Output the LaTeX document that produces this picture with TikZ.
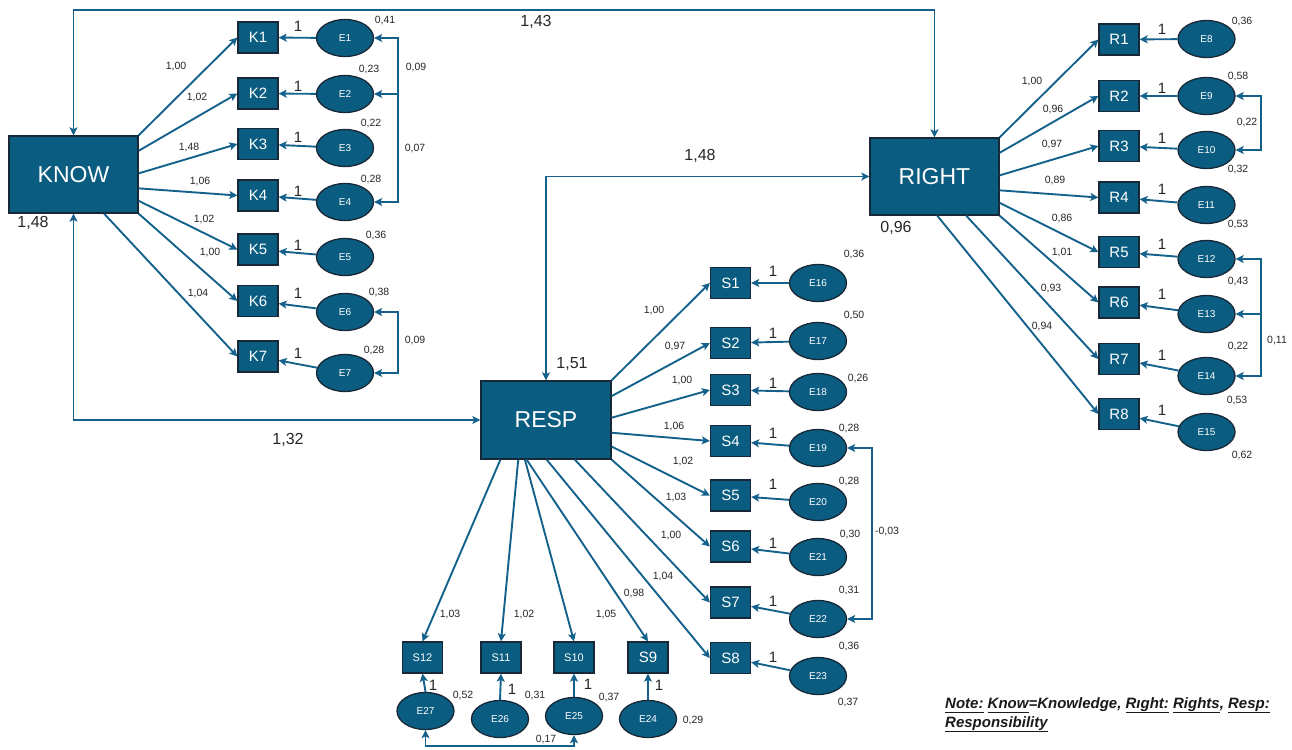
\documentclass[tikz,border=0pt]{standalone}
\usepackage{fontspec}
\setmainfont{Liberation Sans}
\usetikzlibrary{arrows.meta,shapes.geometric,calc}
\definecolor{semfill}{RGB}{10,92,128}
\definecolor{semline}{RGB}{20,98,140}
\definecolor{semedge}{RGB}{25,40,55}
\newcommand{\nul}[1]{\underline{#1\vphantom{g}}}
\tikzset{
  latent/.style={rectangle, fill=semfill, draw=semedge, line width=1.3pt,
    minimum width=129pt, minimum height=77pt, inner sep=0pt, text=white,
    font=\fontsize{23}{23}\selectfont},
  item/.style={rectangle, fill=semfill, draw=semedge, line width=1.3pt,
    minimum width=40pt, minimum height=31pt, inner sep=0pt, text=white,
    font=\fontsize{15}{15}\selectfont},
  smallitem/.style={item, font=\fontsize{11}{11}\selectfont},
  err/.style={ellipse, fill=semfill, draw=semedge, line width=1.3pt,
    minimum width=57pt, minimum height=37pt, inner sep=0pt, text=white,
    font=\fontsize{10}{10}\selectfont},
  link/.style={draw=semline, line width=1.9pt,
    -{Stealth[length=8pt,width=8pt,inset=1.8pt]}},
  cov/.style={link, {Stealth[length=8pt,width=8pt,inset=1.8pt]}-{Stealth[length=8pt,width=8pt,inset=1.8pt]}},
  lab/.style={font=\fontsize{10.5}{10.5}\selectfont, inner sep=0pt, text=black!85},
  one/.style={font=\fontsize{15}{15}\selectfont, inner sep=0pt, text=black!85},
  big/.style={font=\fontsize{16}{16}\selectfont, inner sep=0pt, text=black!85},
  notetext/.style={anchor=base west, inner sep=0pt, text=black!90,
    font=\fontsize{15}{18}\selectfont\bfseries\itshape},
}
\begin{document}
\begin{tikzpicture}[x=1pt,y=-1pt]
\useasboundingbox (0,0) rectangle (1292,749);

% latent factors
\node[latent] (know) at (73.5,174.5) {KNOW};
\node[latent] (right) at (934.5,176.5) {RIGHT};
\node[latent, minimum width=130pt, minimum height=78pt] (resp) at (546,420) {RESP};

% knowledge indicators and errors
\foreach \i/\y in {1/37.5,2/93.5,3/144,4/195.5,5/249.5,6/301,7/356.5}
  \node[item] (k\i) at (258,\y) {K\i};
\foreach \i/\y in {1/38,2/94,3/148,4/202,5/257,6/312,7/373}
  \node[err] (e\i) at (345,\y) {E\i};

% rights indicators and errors
\foreach \i/\y in {1/39.5,2/96,3/146,4/197.5,5/252,6/302.5,7/359,8/414}
  \node[item] (r\i) at (1119,\y) {R\i};
\foreach \i/\y [evaluate=\i as \j using int(\i+7)] in {1/39,2/96,3/150,4/205,5/259,6/314,7/376,8/432}
  \node[err] (e\j) at (1206.5,\y) {E\j};

% responsibility indicators and errors (right column)
\foreach \i/\y in {1/283,2/343,3/390,4/441,5/495.5,6/546.5,7/602.5,8/658}
  \node[item] (s\i) at (730.5,\y) {S\i};
\foreach \i/\y [evaluate=\i as \j using int(\i+15)] in {1/283,2/341,3/392,4/448,5/502,6/557,7/619,8/676}
  \node[err] (e\j) at (818,\y) {E\j};

% responsibility indicators and errors (bottom row)
\node[item] (s9) at (648,657.5) {S9};
\node[smallitem] (s10) at (574,657.5) {S10};
\node[smallitem] (s11) at (501,657.5) {S11};
\node[smallitem] (s12) at (422.5,657.5) {S12};
\node[err] (e24) at (648,719) {E24};
\node[err] (e25) at (574,716) {E25};
\node[err] (e26) at (500,719) {E26};
\node[err] (e27) at (425.5,711) {E27};

% factor loadings
\foreach \i/\a in {1/north east,2/20,3/1,4/-12,5/-22,6/south east,7/-52.5}
  \draw[link] (know.\a) -- (k\i.west);
\foreach \i/\a in {1/north east,2/20,3/1,4/-12,5/-22,6/south east,7/-51.6,8/-86}
  \draw[link] (right.\a) -- (r\i.west);
\foreach \i/\a in {1/north east,2/20,3/2,4/-11,5/-22.5,6/south east,7/-54,8/-89}
  \draw[link] (resp.\a) -- (s\i.west);
\draw[link] (resp.-116) -- (s9.north);
\draw[link] (resp.-118) -- (s10.north);
\draw[link] (resp.-125.7) -- (s11.north);
\draw[link] (resp.-139) -- (s12.north);

% error paths
\foreach \i in {1,...,7} \draw[link] (e\i) -- (k\i);
\foreach \i [evaluate=\i as \j using int(\i+7)] in {1,...,8} \draw[link] (e\j) -- (r\i);
\foreach \i [evaluate=\i as \j using int(\i+15)] in {1,...,8} \draw[link] (e\j) -- (s\i);
\draw[link] (e24.north) -- (s9.south);
\draw[link] (e25.north) -- (s10.south);
\draw[link] (e26.north) -- (s11.south);
\draw[link] (e27.north) -- (s12.south);

% error covariances
\draw[cov] (e1.east) -- ++(24,0) |- (e4.east);
\draw[link] ([xshift=24pt]e2.east) -- (e2.east);
\draw[cov] (e6.east) -- ++(24,0) |- (e7.east);
\draw[cov] (e9.east) -- ++(25,0) |- (e10.east);
\draw[cov] (e12.east) -- ++(25,0) |- (e14.east);
\draw[link] ([xshift=25pt]e13.east) -- (e13.east);
\draw[cov] (e19.east) -- ++(24.5,0) |- (e22.east);
\draw[cov] (e27.south) -- ++(0,16) -| (e25.south);

% factor covariances
\coordinate (topline) at (0,10);
\draw[cov] (know.north) -- (know.north |- topline) -- (right.north |- topline) -- (right.north);
\draw[cov] (know.south) -- (know.south |- resp.west) -- (resp.west);
\draw[cov] (right.west) -- (right.west -| resp.north) -- (resp.north);

% factor variances and covariances
\node[big] (v-know) at (33,223) {1,48};
\node[big] (v-right) at (896,228) {0,96};
\node[big] (v-resp) at (572,364) {1,51};
\node[big] (c-kr) at (536,22) {1,43};
\node[big] (c-rs) at (700,156) {1,48};
\node[big] (c-ks) at (288,440) {1,32};

% knowledge labels
\foreach \x/\y/\t [count=\n] in {176/67/{1,00},197/98/{1,02},189/148/{1,48},200/182/{1,06},204/220/{1,02},210/253/{1,00},198/294/{1,04}}
  \node[lab] (lk\n) at (\x,\y) {\t};
\foreach \x/\y/\t [count=\n] in {385/21/{0,41},369/70/{0,23},371/124/{0,22},371/180/{0,28},376/236/{0,36},379/293/{0,38},374/351/{0,28}}
  \node[lab] (vk\n) at (\x,\y) {\t};
\foreach \y [count=\n] in {26,86,137,191,245,293,353}
  \node[one] (ok\n) at (298,\y) {1};
\node[lab] (ck1) at (416,68) {0,09};
\node[lab] (ck2) at (415,149) {0,07};
\node[lab] (ck3) at (415,341) {0,09};

% rights labels
\foreach \x/\y/\t [count=\n] in {1032/82/{1,00},1053/110/{0,96},1052/145/{0,97},1055/181/{0,89},1062/219/{0,86},1062/253/{1,01},1051/289/{0,93},1042/327/{0,94}}
  \node[lab] (lr\n) at (\x,\y) {\t};
\foreach \x/\y/\t [count=\n] in {1242/22/{0,36},1238/77/{0,58},1238/170/{0,32},1238/225/{0,53},1238/282/{0,43},1238/347/{0,22},1237/401/{0,53},1242/456/{0,62}}
  \node[lab] (vr\n) at (\x,\y) {\t};
\foreach \y [count=\n] in {29,88,138,189,244,294,355,410}
  \node[one] (or\n) at (1162,\y) {1};
\node[lab] (cr1) at (1247,123) {0,22};
\node[lab] (cr2) at (1277,341) {0,11};

% responsibility labels
\foreach \x/\y/\t [count=\n] in {654/311/{1,00},675/347/{0,97},682/381/{1,00},674/427/{1,06},683/462/{1,02},676/497/{1,03},671/535/{1,00},663/576/{1,04},634/593/{0,98},606/614/{1,05},524/614/{1,02},450/614/{1,03}}
  \node[lab] (ls\n) at (\x,\y) {\t};
\foreach \x/\y/\t [count=\n] in {854/255/{0,36},854/316/{0,50},858/379/{0,26},849/429/{0,28},849/482/{0,28},850/534/{0,30},849/590/{0,31},849/646/{0,36},848/702/{0,37},693/720/{0,29},609/697/{0,37},535/695/{0,31},463/695/{0,52}}
  \node[lab] (vs\n) at (\x,\y) {\t};
\foreach \y [count=\n] in {271,333,383,433,484,543,601,657}
  \node[one] (os\n) at (773,\y) {1};
\foreach \x/\y [count=\n] in {659/685,588/684,512/689,433/685}
  \node[one] (ob\n) at (\x,\y) {1};
\node[lab] (cs1) at (887,531) {-0,03};
\node[lab] (cs2) at (546,739) {0,17};

% note
\node[notetext] (note1) at (945,708) {\nul{Note:} \nul{Know}=Knowledge, \nul{Rıght:} \nul{Rights}, \nul{Resp:}};
\node[notetext] (note2) at (945,727) {\nul{Responsibility}};
\end{tikzpicture}
\end{document}
